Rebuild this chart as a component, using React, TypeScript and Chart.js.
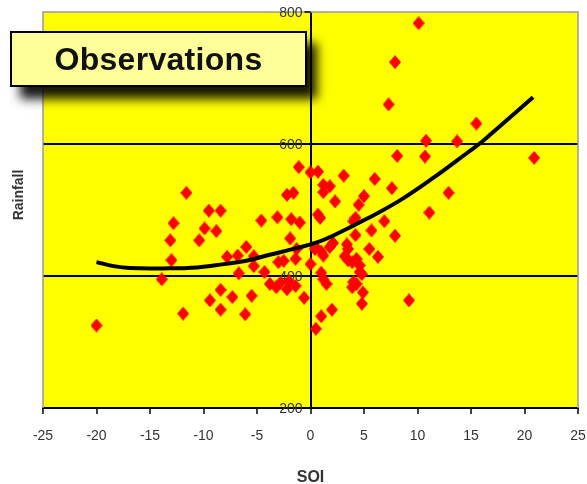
import React, { useEffect, useRef } from 'react';
import { Chart, registerables } from 'chart.js';

Chart.register(...registerables);

// Observations: SOI (x) vs Rainfall (y)
const soi = [
  -20.0, -13.9, -11.9, -11.6, -12.8, -13.1, -13.0, -9.5, -8.4, -9.9,
  -8.8, -10.4, -7.8, -6.0, -6.8, -5.3, -5.3, -6.7, -8.4, -9.4,
  -7.3, -5.5, -8.4, -6.1, -4.6, -3.1, -1.8, -1.0, -1.9, -2.2,
  -1.6, -1.1, -4.3, -3.8, -3.2, -2.2, -3.0, -2.5, -1.3, -1.4,
  -0.6, -1.4, -2.8, -2.0, 0.0, 0.7, 3.1, 6.0, 8.1, 7.6,
  1.2, 1.8, 1.2, 2.3, 5.0, 4.5, 6.9, 0.7, 0.9, 4.2,
  5.7, 7.9, 4.2, 3.4, 3.5, 1.8, 2.1, 1.0, 1.2, 0.4,
  5.5, 6.3, 3.2, 3.5, 4.3, 4.6, 0.0, 1.0, 1.5, 4.0,
  4.3, 4.8, 4.9, 4.8, 2.0, 1.0, 0.5, 9.2, 1.2, 3.9,
  0.5, 3.9, 4.6, 10.1, 7.9, 7.3, 15.5, 10.8, 13.7, 10.7,
  20.9, 12.9, 11.1, 4.0,
];
const rainfall = [
  325, 395, 343, 526, 480, 454, 424, 499, 499, 472,
  468, 454, 429, 444, 431, 430, 415, 404, 379, 363,
  368, 370, 349, 342, 484, 489, 486, 481, 457, 523,
  526, 565, 406, 388, 383, 380, 421, 423, 441, 426,
  367, 385, 390, 392, 557, 558, 552, 547, 582, 533,
  538, 536, 527, 513, 521, 508, 483, 493, 488, 488,
  469, 461, 462, 448, 441, 444, 450, 437, 431, 441,
  441, 429, 430, 424, 426, 416, 418, 405, 388, 391,
  388, 403, 375, 358, 349, 339, 320, 363, 395, 383,
  443, 421, 406, 783, 724, 660, 631, 605, 604, 581,
  579, 526, 496, 483,
];

// Fitted trend curve
const trendSoi = [-20, -18.4, -16.9, -13.8, -10.6, -8.1, -6.0, -4.1, -1.6, 0.6, 2.1, 5.3, 8.4, 11.5, 14.6, 16.0, 17.7, 20.8];
const trendRain = [421, 415, 412, 411.5, 413, 418, 423, 431, 441, 451, 461, 487, 515, 549, 586, 603, 627, 671];

const yTickValues = [200, 400, 600, 800];
const yGridValues = [400, 600];

const SANS = "'Liberation Sans', Arial, sans-serif";

function makeDiamond(): HTMLCanvasElement {
  const c = document.createElement('canvas');
  c.width = 12;
  c.height = 14;
  const g = c.getContext('2d')!;
  g.fillStyle = '#FF0000';
  g.beginPath();
  g.moveTo(6, 0);
  g.lineTo(12, 7);
  g.lineTo(6, 14);
  g.lineTo(0, 7);
  g.closePath();
  g.fill();
  return c;
}

const decorPlugin = {
  id: 'decor',
  beforeDraw(chart: any) {
    const { ctx, chartArea: a } = chart;
    ctx.save();
    ctx.fillStyle = '#FFFF00';
    ctx.fillRect(a.left, a.top, a.right - a.left, a.bottom - a.top);
    ctx.restore();
  },
  beforeDatasetsDraw(chart: any) {
    const { ctx, chartArea: a, scales } = chart;
    const xs = scales.x;
    const ys = scales.y;
    ctx.save();
    // grey frame (left, top, right)
    ctx.strokeStyle = '#9a9a9a';
    ctx.lineWidth = 1.5;
    ctx.beginPath();
    ctx.moveTo(a.left, a.bottom);
    ctx.lineTo(a.left, a.top);
    ctx.lineTo(a.right, a.top);
    ctx.lineTo(a.right, a.bottom);
    ctx.stroke();
    // y axis at SOI = 0: small ticks + labels
    const x0 = xs.getPixelForValue(0);
    ctx.strokeStyle = '#000';
    ctx.lineWidth = 1.5;
    ctx.font = `14px ${SANS}`;
    ctx.fillStyle = '#333';
    ctx.textAlign = 'right';
    ctx.textBaseline = 'middle';
    yTickValues.forEach((v) => {
      const py = ys.getPixelForValue(v);
      ctx.beginPath();
      ctx.moveTo(x0 - 6, py);
      ctx.lineTo(x0, py);
      ctx.stroke();
      ctx.fillText(String(v), x0 - 8, py + 1);
    });
    ctx.restore();
  },
  afterDraw(chart: any) {
    const { ctx, scales } = chart;
    const xs = scales.x;
    ctx.save();
    ctx.fillStyle = '#333';
    ctx.textBaseline = 'alphabetic';
    ctx.textAlign = 'center';
    ctx.font = `bold 16px ${SANS}`;
    ctx.fillText('SOI', xs.getPixelForValue(0), 482);
    ctx.translate(23, 195);
    ctx.rotate(-Math.PI / 2);
    ctx.font = `bold 14px ${SANS}`;
    ctx.fillText('Rainfall', 0, 0);
    ctx.restore();
  },
};

export default function App() {
  const ref = useRef<HTMLCanvasElement | null>(null);

  useEffect(() => {
    document.body.style.margin = '0';
    const canvas = ref.current;
    if (!canvas) return;
    const diamond = makeDiamond();
    const points = soi.map((x, i) => ({ x, y: rainfall[i] }));
    const trend = trendSoi.map((x, i) => ({ x, y: trendRain[i] }));

    const chart = new Chart(canvas, {
      type: 'scatter',
      data: {
        datasets: [
          {
            type: 'line',
            label: 'Trend',
            data: trend,
            borderColor: '#000',
            borderWidth: 4,
            pointRadius: 0,
            tension: 0.4,
            fill: false,
            order: 0,
          } as any,
          {
            label: 'Observations',
            data: points,
            pointStyle: diamond,
            pointRadius: 6,
            backgroundColor: '#FF0000',
            borderColor: '#FF0000',
            order: 1,
          } as any,
        ],
      },
      options: {
        animation: false,
        responsive: false,
        maintainAspectRatio: false,
        layout: { padding: { left: 43, right: 9, top: 12, bottom: 0 } },
        plugins: {
          legend: { display: false },
          tooltip: { enabled: false },
          title: { display: false },
        },
        scales: {
          x: {
            type: 'linear',
            min: -25,
            max: 25,
            afterFit: (s: any) => {
              s.height = 76;
              s.paddingLeft = 0;
              s.paddingRight = 0;
            },
            ticks: {
              stepSize: 5,
              color: '#333',
              padding: 14,
              font: { family: SANS, size: 14 },
              maxRotation: 0,
            },
            grid: {
              color: (c: any) => (c.tick && c.tick.value === 0 ? '#000' : 'rgba(0,0,0,0)'),
              lineWidth: 2,
              tickColor: '#000',
              tickLength: 6,
              tickWidth: 1.5,
            },
            border: { display: true, color: '#000', width: 2 },
          },
          y: {
            type: 'linear',
            min: 200,
            max: 800,
            afterFit: (s: any) => {
              s.width = 0;
            },
            ticks: { display: false, stepSize: 200 },
            grid: {
              color: (c: any) =>
                c.tick && yGridValues.includes(c.tick.value) ? '#000' : 'rgba(0,0,0,0)',
              lineWidth: 2,
              drawTicks: false,
            },
            border: { display: false },
          },
        },
      },
      plugins: [decorPlugin],
    });
    return () => chart.destroy();
  }, []);

  return (
    <div style={{ position: 'fixed', left: 0, top: 0, width: 587, height: 484, background: '#fff' }}>
      <canvas ref={ref} width={587} height={484} style={{ display: 'block', width: 587, height: 484 }} />
      <div
        style={{
          position: 'absolute',
          left: 10,
          top: 31,
          width: 297,
          height: 56,
          boxSizing: 'border-box',
          border: '2px solid #000',
          background: '#FFFF99',
          boxShadow: '10px 12px 10px rgba(0,0,0,0.9)',
          display: 'flex',
          alignItems: 'center',
          justifyContent: 'center',
          fontFamily: SANS,
          fontWeight: 'bold',
          fontSize: 32,
          color: '#111',
          letterSpacing: 0.3,
        }}
      >
        Observations
      </div>
    </div>
  );
}
